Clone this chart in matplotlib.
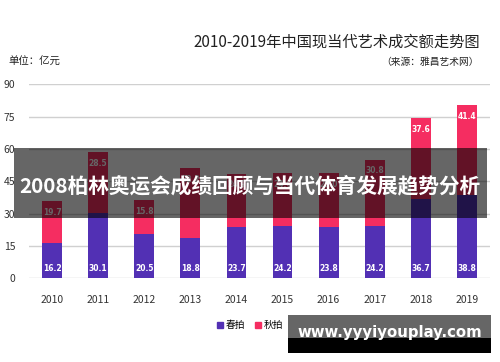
import numpy as np
import matplotlib.pyplot as plt
from matplotlib.patches import Rectangle, Patch

plt.rcParams['font.family'] = ['Noto Sans CJK SC', 'DejaVu Sans']

years = ["2010", "2011", "2012", "2013", "2014", "2015", "2016", "2017", "2018", "2019"]
spring = [16.2, 30.1, 20.5, 18.8, 23.7, 24.2, 23.8, 24.2, 36.7, 38.8]
autumn = [19.7, 28.5, 15.8, 32.2, 24.9, 24.6, 25.0, 30.8, 37.6, 41.4]
yticks = [0, 15, 30, 45, 60, 75, 90]

c_spring = '#5230B4'
c_autumn = '#F52D61'

fig = plt.figure(figsize=(5, 3.62), dpi=100)
ax = fig.add_axes([0.058, 0.231, 0.922, 0.536])

x = np.arange(len(years))
ax.bar(x, spring, width=0.43, color=c_spring, zorder=2)
ax.bar(x, autumn, width=0.43, bottom=spring, color=c_autumn, zorder=2)

# value labels (some sit under the banner, as in the original)
for xi, s, a in zip(x, spring, autumn):
    ax.annotate(f"{s}", (xi, 0), xytext=(0, 7), textcoords='offset points',
                ha='center', va='center', color='white', fontsize=5.5,
                fontweight='bold', family='DejaVu Sans', zorder=3)
    ax.annotate(f"{a}", (xi, s + a), xytext=(0, -8), textcoords='offset points',
                ha='center', va='center', color='white', fontsize=5.5,
                fontweight='bold', family='DejaVu Sans', zorder=3)

ax.set_xlim(-0.5, 9.5)
ax.set_ylim(0, 90)
ax.set_yticks(yticks)
ax.set_xticks(x, years)
ax.yaxis.grid(True, color='#D0D0D0', lw=1)
ax.set_axisbelow(True)
for sp in ax.spines.values():
    sp.set_visible(False)
ax.tick_params(length=0, labelsize=7.5, labelcolor='#333333')
ax.tick_params(axis='x', pad=12)
ax.tick_params(axis='y', pad=10)

fig.text(0.96, 0.885, "2010-2019年中国现当代艺术成交额走势图", ha='right', va='center',
         fontsize=11, color='#222222')
fig.text(0.016, 0.828, "单位：亿元", ha='left', va='center', fontsize=7.5, color='#222222')
fig.text(0.958, 0.828, "（来源：雅昌艺术网）", ha='right', va='center', fontsize=7, color='#222222')

fig.legend(handles=[Patch(color=c_spring, label='春拍'), Patch(color=c_autumn, label='秋拍')],
           loc='center', bbox_to_anchor=(0.5, 0.102), ncol=2, frameon=False,
           fontsize=7, handlelength=0.6, handleheight=0.6, handletextpad=0.3,
           columnspacing=1.0)

# overlay banner
fig.patches.append(Rectangle((0.028, 0.398), 0.946, 0.193, transform=fig.transFigure,
                             facecolor='black', alpha=0.6, zorder=5))
fig.text(0.5, 0.486, "2008柏林奥运会成绩回顾与当代体育发展趋势分析", ha='center', va='center',
         fontsize=14.9, fontweight='bold', color='white', zorder=6)

# watermark
fig.patches.append(Rectangle((0.576, 0.025), 0.406, 0.042, transform=fig.transFigure,
                             facecolor='black', zorder=5))
fig.patches.append(Rectangle((0.576, 0.065), 0.406, 0.065, transform=fig.transFigure,
                             facecolor='#666666', zorder=5))
fig.text(0.78, 0.082, "www.yyyiyouplay.com", ha='center', va='center', fontsize=10.7,
         fontweight='bold', color='white', family='DejaVu Sans', zorder=6)

fig.savefig("out.png", dpi=100)
